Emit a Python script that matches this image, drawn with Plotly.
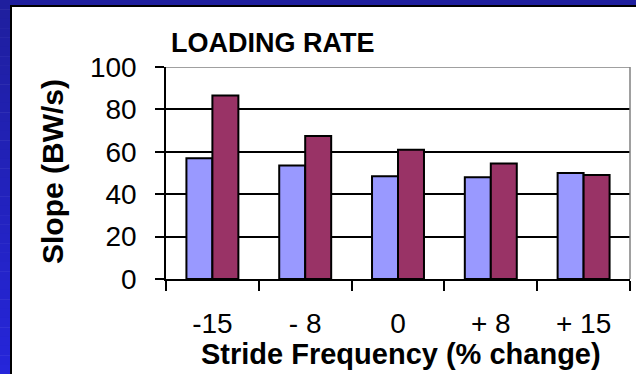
import plotly.graph_objects as go

categories = ["-15", "- 8", "0", "+ 8", "+ 15"]
series1 = [57, 53.5, 48.5, 48, 50]
series2 = [86.5, 67.5, 61, 54.5, 49]
y_ticks = [0, 20, 40, 60, 80, 100]

W, H = 636, 374
L, R, T, B = 166, 6, 67, 95
PW, PH = W - L - R, H - T - B


def px(x):
    return (x - L) / PW


def py(y):
    return (H - B - y) / PH


fig = go.Figure()
fig.add_trace(go.Bar(x=categories, y=series1, name="Series 1",
                     marker=dict(color="#9999FF", line=dict(color="black", width=2))))
fig.add_trace(go.Bar(x=categories, y=series2, name="Series 2",
                     marker=dict(color="#993366", line=dict(color="black", width=2))))

shapes = []
shapes.append(dict(type="rect", xref="paper", yref="paper", x0=px(0), x1=px(W), y0=py(0), y1=py(5),
                   fillcolor="#1F1F9E", line=dict(width=0), layer="below"))
n = 40
for i in range(n):
    t = i / (n - 1)
    r = int(0x1F + (0x26 - 0x1F) * t)
    b = int(0x9E + (0xDA - 0x9E) * t)
    col = "#%02X%02X%02X" % (r, r, b)
    y0 = H * i / n
    y1 = H * (i + 1) / n + 0.5
    shapes.append(dict(type="rect", xref="paper", yref="paper", x0=px(0), x1=px(10),
                       y0=py(y0), y1=py(y1), fillcolor=col, line=dict(width=0), layer="below"))
shapes.append(dict(type="rect", xref="paper", yref="paper", x0=px(10), x1=px(W + 2), y0=py(5), y1=py(7),
                   fillcolor="black", line=dict(width=0), layer="below"))
shapes.append(dict(type="rect", xref="paper", yref="paper", x0=px(10), x1=px(12), y0=py(5), y1=py(H + 2),
                   fillcolor="black", line=dict(width=0), layer="below"))
shapes.append(dict(type="line", xref="x domain", yref="y", x0=0, x1=1, y0=100, y1=100,
                   line=dict(color="#808080", width=1.5), layer="above"))
shapes.append(dict(type="line", xref="x domain", yref="y", x0=1, x1=1, y0=0, y1=100,
                   line=dict(color="#808080", width=1.5), layer="above"))

fig.update_layout(
    width=W, height=H,
    margin=dict(l=L, r=R, t=T, b=B, pad=0),
    paper_bgcolor="white", plot_bgcolor="white",
    barmode="group", bargap=0.44, bargroupgap=0,
    showlegend=False,
    font=dict(family="Liberation Sans, Arial, sans-serif", color="black", size=28),
    shapes=shapes,
    xaxis=dict(type="category", showline=True, linecolor="black", linewidth=1.5,
               ticks="outside", ticklen=10, tickwidth=1.5, tickcolor="black",
               tickson="boundaries", showgrid=False, ticklabelstandoff=19,
               tickfont=dict(size=28)),
    yaxis=dict(range=[0, 100], tickvals=y_ticks, showline=True, linecolor="black", linewidth=1.5,
               ticks="outside", ticklen=9, tickwidth=1.5, tickcolor="black",
               showgrid=True, gridcolor="black", gridwidth=1.5, zeroline=False,
               ticklabelstandoff=13, tickfont=dict(size=28)),
    annotations=[
        dict(text="<b>LOADING RATE</b>", xref="paper", yref="paper", x=px(273), y=py(43),
             xanchor="center", yanchor="middle", showarrow=False,
             font=dict(size=27)),
        dict(text="<b>Stride Frequency (% change)</b>", xref="paper", yref="paper", x=px(401), y=py(354),
             xanchor="center", yanchor="middle", showarrow=False, font=dict(size=29)),
        dict(text="<b>Slope (BW/s)</b>", xref="paper", yref="paper", x=px(52), y=py(172),
             xanchor="center", yanchor="middle", showarrow=False, textangle=-90, font=dict(size=30)),
    ],
)

fig.write_html("out.html", config={"displayModeBar": False},
               post_script="document.body.style.margin='0';document.body.style.padding='0';document.body.style.overflow='hidden';")
